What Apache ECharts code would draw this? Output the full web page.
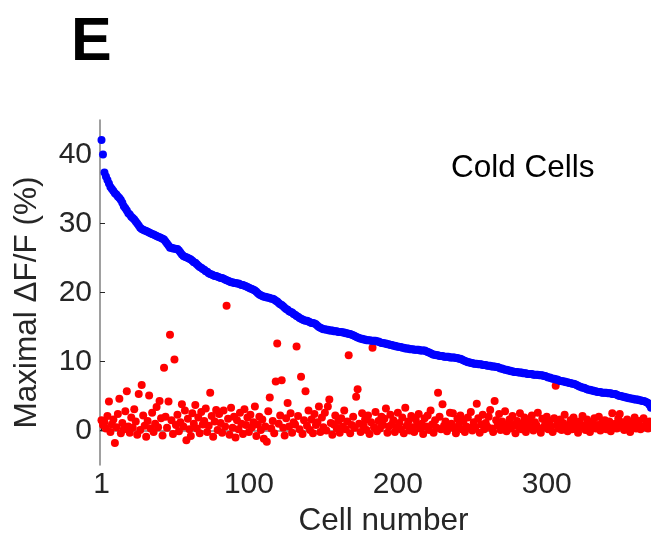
<!DOCTYPE html>
<html>
<head>
<meta charset="utf-8">
<script src="https://cdn.jsdelivr.net/npm/echarts@6/dist/echarts.min.js"></script>
<style>
  html, body { margin: 0; padding: 0; background: #fff; }
  #chart { width: 651px; height: 542px; }
</style>
</head>
<body>
<div id="chart"></div>
<script>
// peak dF/F per cell, sorted by the warm response (blue) and the matching cold trace (red)
const warmPeak = [
  42.1, 40.0, 37.4, 36.8, 36.3, 35.8, 35.3, 35.0, 34.7, 34.4,
  34.2, 33.9, 33.7, 33.4, 33.0, 32.5, 32.2, 31.9, 31.5, 31.3,
  31.0, 30.8, 30.6, 30.3, 30.0, 29.7, 29.4, 29.2, 29.1, 29.0,
  28.9, 28.8, 28.7, 28.6, 28.5, 28.4, 28.3, 28.2, 28.1, 28.0,
  27.9, 27.8, 27.7, 27.4, 27.1, 26.8, 26.5, 26.5, 26.4, 26.4,
  26.3, 26.3, 26.1, 25.8, 25.5, 25.3, 25.2, 25.1, 25.0, 24.9,
  24.8, 24.6, 24.4, 24.3, 24.1, 23.9, 23.7, 23.6, 23.4, 23.3,
  23.1, 23.0, 22.8, 22.7, 22.6, 22.5, 22.4, 22.4, 22.3, 22.2,
  22.1, 22.1, 22.0, 21.9, 21.8, 21.7, 21.6, 21.5, 21.5, 21.4,
  21.4, 21.3, 21.3, 21.2, 21.1, 21.1, 21.0, 20.9, 20.8, 20.7,
  20.6, 20.5, 20.4, 20.3, 20.1, 19.9, 19.7, 19.6, 19.5, 19.4,
  19.4, 19.3, 19.3, 19.2, 19.1, 19.1, 19.0, 18.8, 18.7, 18.5,
  18.3, 18.2, 18.0, 17.8, 17.6, 17.5, 17.3, 17.2, 17.1, 16.9,
  16.8, 16.6, 16.5, 16.3, 16.2, 16.1, 16.0, 15.9, 15.9, 15.8,
  15.7, 15.6, 15.6, 15.5, 15.4, 15.2, 15.0, 14.9, 14.8, 14.7,
  14.7, 14.6, 14.6, 14.5, 14.5, 14.5, 14.4, 14.4, 14.4, 14.3,
  14.3, 14.3, 14.2, 14.2, 14.1, 14.1, 14.0, 14.0, 13.9, 13.8,
  13.7, 13.6, 13.5, 13.4, 13.3, 13.3, 13.2, 13.2, 13.1, 13.1,
  13.1, 13.0, 13.0, 13.0, 13.0, 12.9, 12.9, 12.8, 12.7, 12.7,
  12.6, 12.6, 12.5, 12.5, 12.4, 12.4, 12.3, 12.3, 12.2, 12.2,
  12.1, 12.1, 12.0, 12.0, 11.9, 11.9, 11.9, 11.8, 11.8, 11.8,
  11.7, 11.7, 11.7, 11.7, 11.6, 11.6, 11.6, 11.6, 11.5, 11.4,
  11.3, 11.2, 11.1, 11.0, 11.0, 10.9, 10.9, 10.8, 10.8, 10.8,
  10.7, 10.7, 10.7, 10.7, 10.6, 10.6, 10.6, 10.6, 10.5, 10.5,
  10.4, 10.4, 10.3, 10.2, 10.1, 10.0, 9.9, 9.9, 9.8, 9.8,
  9.7, 9.7, 9.7, 9.6, 9.6, 9.6, 9.5, 9.5, 9.5, 9.4,
  9.4, 9.4, 9.3, 9.3, 9.3, 9.2, 9.2, 9.1, 9.0, 9.0,
  8.9, 8.8, 8.8, 8.7, 8.7, 8.6, 8.6, 8.5, 8.5, 8.5,
  8.4, 8.4, 8.4, 8.3, 8.3, 8.3, 8.2, 8.2, 8.2, 8.2,
  8.1, 8.1, 8.1, 8.1, 8.0, 8.0, 8.0, 7.9, 7.9, 7.8,
  7.7, 7.7, 7.6, 7.5, 7.5, 7.4, 7.4, 7.3, 7.2, 7.2,
  7.1, 7.1, 7.0, 7.0, 6.9, 6.9, 6.8, 6.8, 6.7, 6.6,
  6.5, 6.4, 6.3, 6.2, 6.2, 6.1, 6.0, 5.9, 5.9, 5.8,
  5.8, 5.7, 5.7, 5.6, 5.6, 5.6, 5.5, 5.5, 5.5, 5.5,
  5.4, 5.4, 5.4, 5.3, 5.3, 5.3, 5.2, 5.1, 5.0, 5.0,
  4.9, 4.9, 4.8, 4.8, 4.7, 4.7, 4.6, 4.6, 4.5, 4.5,
  4.5, 4.4, 4.4, 4.3, 4.3, 4.2, 4.1, 4.0, 3.7, 3.3
]

const coldPeak = [
  1.5, 0.8, 1.2, 0.3, 2.1, 4.2, -0.2, 0.9, 1.6, -1.8,
  0.5, 2.4, 4.6, -0.4, 1.1, 0.2, 2.8, 5.7, 0.6, -0.3,
  1.9, 0.4, 3.1, 1.3, -0.6, 5.3, 0.1, 6.6, 2.2, 0.7,
  -0.9, 1.4, 5.1, 0.3, 2.6, -0.2, 1.0, 3.4, 0.5, 4.3,
  1.8, -0.7, 9.1, 2.0, 0.4, 4.2, 13.9, 1.5, -0.5, 10.3,
  0.8, 2.3, -0.1, 1.2, 3.8, 0.6, 2.9, -1.4, 1.7, 0.2,
  -0.8, 2.5, 1.0, 3.7, 0.3, 1.9, -0.4, 2.7, 0.9, 1.4,
  3.2, -0.2, 0.7, 5.5, 2.1, -0.9, 1.3, 3.0, 0.1, 2.4,
  1.1, -0.3, 2.9, 0.6, 18.1, 1.7, -0.6, 3.3, 0.4, 2.0,
  -1.0, 1.5, 0.2, 2.6, 1.0, -0.5, 3.1, 0.8, 1.9, -0.2,
  2.3, 0.5, 1.2, 3.5, -0.8, 0.9, 2.0, 0.1, 1.6, -1.2,
  0.6, -1.6, 2.8, 4.8, 0.3, 1.4, -0.4, 7.1, 12.6, 1.0,
  2.2, 7.3, 0.4, -0.7, 1.8, 4.0, 0.6, 2.5, -0.3, 1.2,
  0.9, 12.2, 2.1, 0.2, 7.8, -0.5, 1.5, 5.7, 0.7, 2.9,
  0.1, 1.6, -0.4, 2.4, 0.8, 1.2, 3.5, -0.2, 1.9, 0.5,
  2.6, 0.0, 3.5, 4.5, 1.1, -0.6, 0.9, 2.2, 0.3, 1.4,
  -0.3, 1.8, 0.6, 2.9, 0.2, 1.3, 10.9, -0.4, 0.8, 2.0,
  0.4, 4.9, 6.0, 1.0, -0.2, 2.5, 0.7, 1.6, 0.1, 2.2,
  -0.5, 1.2, 12.0, 0.5, 2.7, -0.1, 1.4, 0.3, 2.0, 0.8,
  1.7, 3.2, -0.3, 0.6, 2.3, 0.9, 1.5, -0.2, 0.4, 2.6,
  1.1, 0.2, 1.9, -0.4, 3.3, 0.7, 1.3, 0.0, 2.1, 0.5,
  -0.2, 1.6, 0.8, 2.4, 0.3, 1.0, -0.5, 1.8, 0.6, 2.2,
  0.1, 2.9, 0.9, -0.3, 1.5, 0.4, 5.5, 2.0, 0.2, 3.8,
  0.7, 1.3, -0.1, 0.5, 2.6, 1.0, 2.5, 0.3, -0.4, 1.7,
  0.8, 2.2, 0.2, 1.4, -0.2, 0.6, 1.9, 0.4, 2.7, 0.0,
  1.2, 0.5, 3.9, 1.8, -0.3, 0.9, 2.3, 0.2, 1.1, 0.6,
  2.0, 3.0, 0.3, -0.2, 4.3, 1.5, 0.7, 2.4, 0.1, 1.3,
  0.5, 2.8, -0.1, 0.9, 1.6, 0.3, 2.1, 0.8, -0.4, 1.4,
  0.6, 2.5, 0.2, 1.1, 1.9, -0.2, 0.7, 1.5, 0.4, 2.2,
  0.0, 1.2, 0.8, 2.6, 0.3, -0.3, 1.7, 0.5, 1.0, 2.0,
  0.2, 1.4, 0.6, -0.2, 1.8, 6.5, 0.9, 0.3, 1.6, 0.1,
  1.1, 2.3, 0.4, -0.1, 0.8, 1.5, 0.2, 1.9, 0.6, 1.0,
  -0.3, 1.3, 0.5, 2.1, 0.7, 0.1, 1.6, 0.9, -0.2, 1.2,
  0.4, 1.8, 0.3, 0.8, 2.0, 0.0, 1.1, 0.6, 1.5, 0.2,
  0.9, 1.3, -0.1, 2.5, 0.5, 1.0, 0.3, 1.7, 2.4, 0.6,
  1.2, 0.1, 0.8, 1.6, 0.4, -0.2, 1.1, 0.7, 1.9, 0.3,
  0.9, 1.4, 0.2, 0.6, 1.8, 0.5, 1.0, 0.3, 1.3, 0.6
]

const xTicks = [1, 100, 200, 300]
const yTicks = [0, 10, 20, 30, 40]

const font = '"Liberation Sans", Arial, Helvetica, sans-serif'
const textColor = '#262626'

// cell number starts at 1
const toPoints = (arr) => arr.map((v, i) => [i + 1, v])

const chart = echarts.init(document.getElementById('chart'), null, { renderer: 'canvas' })

chart.setOption({
  animation: false,
  backgroundColor: '#fff',
  grid: { left: 100, right: 0, top: 120, bottom: 73, containLabel: false },
  xAxis: {
    type: 'value',
    min: 0,
    max: 370,
    name: 'Cell number',
    nameLocation: 'middle',
    nameGap: 35,
    nameTextStyle: {
      fontFamily: font, fontSize: 31.5, color: textColor,
      padding: [0, 0, 0, 16]
    },
    axisLine: { show: true, lineStyle: { color: '#808080', width: 1.5 } },
    axisTick: {
      show: true, inside: true, length: 5,
      customValues: xTicks,
      lineStyle: { color: '#262626', width: 1 }
    },
    axisLabel: {
      customValues: xTicks,
      fontFamily: font, fontSize: 30, color: textColor, margin: 5
    },
    splitLine: { show: false }
  },
  yAxis: {
    type: 'value',
    min: -5,
    max: 45,
    name: 'Maximal ΔF/F (%)',
    nameLocation: 'middle',
    nameRotate: 90,
    nameGap: 57,
    nameTextStyle: {
      fontFamily: font, fontSize: 31.5, color: textColor,
      padding: [0, 20, 0, 0]
    },
    axisLine: { show: true, lineStyle: { color: '#808080', width: 1.5 } },
    axisTick: {
      show: true, inside: true, length: 5,
      customValues: yTicks,
      lineStyle: { color: '#262626', width: 1 }
    },
    axisLabel: {
      customValues: yTicks,
      fontFamily: font, fontSize: 30, color: textColor, margin: 8
    },
    splitLine: { show: false }
  },
  graphic: [
    {
      type: 'text', left: 71, top: 13,
      style: { text: 'E', font: 'bold 61px ' + font, fill: '#000' }
    },
    {
      type: 'text', left: 451, top: 152,
      style: { text: 'Cold Cells', font: '31.5px ' + font, fill: '#000' }
    }
  ],
  series: [
    {
      name: 'cold',
      type: 'scatter',
      symbolSize: 8,
      itemStyle: { color: '#ff0000', opacity: 1 },
      data: toPoints(coldPeak)
    },
    {
      name: 'warm',
      type: 'scatter',
      symbolSize: 8,
      itemStyle: { color: '#0000ff', opacity: 1 },
      data: toPoints(warmPeak)
    }
  ]
})
</script>
</body>
</html>
